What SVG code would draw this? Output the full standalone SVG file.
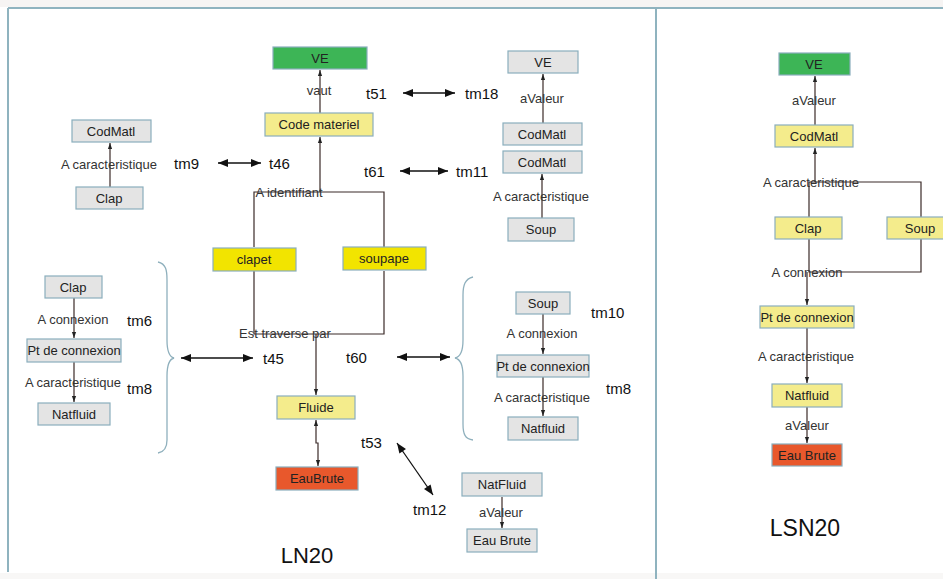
<svg xmlns="http://www.w3.org/2000/svg" width="943" height="579" viewBox="0 0 943 579">
<defs>
<marker id="ah" viewBox="0 0 10 10" refX="10" refY="5" markerWidth="6" markerHeight="6" orient="auto-start-reverse" markerUnits="userSpaceOnUse"><path d="M0,1.5 L10,5 L0,8.5 z" fill="#222"/></marker>
<marker id="big" viewBox="0 0 10 10" refX="10" refY="5" markerWidth="12" markerHeight="10" orient="auto-start-reverse" markerUnits="userSpaceOnUse"><path d="M0,1 L10,5 L0,9 z" fill="#111"/></marker>
</defs>
<style>
.n{stroke:#8aaebd;stroke-width:1.2}
.g{fill:#e4e4e4}
.y{fill:#f4ec8c}
.by{fill:#f2e400}
.gr{fill:#3db556}
.o{fill:#e8582c}
text{font-family:"Liberation Sans",Arial,sans-serif;fill:#222}
.t{font-size:13px;text-anchor:middle;dominant-baseline:central}
.l{font-size:13px;text-anchor:middle;dominant-baseline:central;fill:#333}
.m{font-size:15px;dominant-baseline:central;fill:#111}
.c{fill:none;stroke:#3b2b28;stroke-width:1.2}
.d{fill:none;stroke:#111;stroke-width:1.3}
.br{fill:none;stroke:#8fb0bd;stroke-width:1.3}
.f{stroke:#8fb3bf;stroke-width:2;fill:none}
</style>
<rect width="943" height="579" fill="#ffffff"/>
<rect x="0" y="0" width="943" height="7" fill="#f6f4f3"/>
<rect x="0" y="573" width="943" height="6" fill="#f8f7f6"/>
<g id="frame">
<path class="f" d="M8,8 H943 M8,8 V572 M656,8 V579"/>
</g>
<g id="connectors">
<path class="c" d="M320,113 V70" marker-end="url(#ah)"/>
<path class="c" d="M254,247 V192 H384 V247 M320,192 V137" marker-end="url(#ah)"/>
<path class="c" d="M254,271 V334 H384 V271"/>
<path class="c" d="M316,334 V395" marker-end="url(#ah)"/>
<path class="c" d="M318,466 V443 H316 V420" marker-start="url(#ah)" marker-end="url(#ah)"/>
<path class="c" d="M110,187 V143" marker-end="url(#ah)"/>
<path class="c" d="M543,123 V74" marker-end="url(#ah)"/>
<path class="c" d="M542,218 V174" marker-end="url(#ah)"/>
<path class="c" d="M74,298 V338" marker-end="url(#ah)"/>
<path class="c" d="M74,362 V402" marker-end="url(#ah)"/>
<path class="c" d="M543,314 V354" marker-end="url(#ah)"/>
<path class="c" d="M543,377 V416" marker-end="url(#ah)"/>
<path class="c" d="M502,497 V528" marker-end="url(#ah)"/>
<path class="c" d="M815,182 V148" marker-end="url(#ah)"/>
<path class="c" d="M815,125 V76" marker-end="url(#ah)"/>
<path class="c" d="M809,217 V182 H921 V217"/>
<path class="c" d="M809,239 V272 H921 V239"/>
<path class="c" d="M807,272 V305" marker-end="url(#ah)"/>
<path class="c" d="M807,328 V383" marker-end="url(#ah)"/>
<path class="c" d="M807,407 V443" marker-end="url(#ah)"/>
<path class="d" d="M403,93 H455" marker-start="url(#big)" marker-end="url(#big)"/>
<path class="d" d="M400,171 H448" marker-start="url(#big)" marker-end="url(#big)"/>
<path class="d" d="M218,163 H261" marker-start="url(#big)" marker-end="url(#big)"/>
<path class="d" d="M181,358 H253" marker-start="url(#big)" marker-end="url(#big)"/>
<path class="d" d="M397,357 H450" marker-start="url(#big)" marker-end="url(#big)"/>
<path class="d" d="M397,443 L433,495" marker-start="url(#big)" marker-end="url(#big)"/>
<path class="br" d="M158,262 C166,264 167,270 167,280 L167,340 C167,352 170,357 174,358 C170,359 167,364 167,376 L167,440 C167,448 164,452 158,453"/>
<path class="br" d="M473,277 C465,279 463,285 463,295 L463,340 C463,352 460,357 455,358 C460,359 463,364 463,376 L463,424 C463,434 465,439 473,440"/>
</g>
<g id="labels">
<text class="l" x="319" y="90">vaut</text>
<text class="l" x="289" y="192">A identifiant</text>
<text class="l" x="285" y="333">Est traverse par</text>
<text class="l" x="109" y="164">A caracteristique</text>
<text class="l" x="542" y="98">aValeur</text>
<text class="l" x="541" y="196">A caracteristique</text>
<text class="l" x="73" y="319">A connexion</text>
<text class="l" x="73" y="382">A caracteristique</text>
<text class="l" x="542" y="333">A connexion</text>
<text class="l" x="542" y="397">A caracteristique</text>
<text class="l" x="501" y="512">aValeur</text>
<text class="l" x="814" y="100">aValeur</text>
<text class="l" x="811" y="182">A caracteristique</text>
<text class="l" x="807" y="272">A connexion</text>
<text class="l" x="806" y="356">A caracteristique</text>
<text class="l" x="807" y="425">aValeur</text>
<text class="m" x="366" y="93">t51</text>
<text class="m" x="465" y="93">tm18</text>
<text class="m" x="364" y="171">t61</text>
<text class="m" x="456" y="171">tm11</text>
<text class="m" x="174" y="163">tm9</text>
<text class="m" x="269" y="163">t46</text>
<text class="m" x="127" y="320">tm6</text>
<text class="m" x="127" y="388">tm8</text>
<text class="m" x="263" y="358">t45</text>
<text class="m" x="346" y="357">t60</text>
<text class="m" x="591" y="312">tm10</text>
<text class="m" x="606" y="388">tm8</text>
<text class="m" x="361" y="442">t53</text>
<text class="m" x="413" y="509">tm12</text>
<text x="307" y="555" style="font-size:22px;text-anchor:middle;dominant-baseline:central;fill:#111">LN20</text>
<text x="805" y="528" style="font-size:23px;text-anchor:middle;dominant-baseline:central;fill:#111">LSN20</text>
</g>
<g id="ve-main"><rect class="n gr" x="273" y="47" width="94" height="22"/><text class="t" x="320" y="58">VE</text></g>
<g id="code-materiel"><rect class="n y" x="265" y="113" width="108" height="23"/><text class="t" x="319" y="124.5">Code materiel</text></g>
<g id="clapet"><rect class="n by" x="213" y="248" width="83" height="23"/><text class="t" x="254" y="259.5">clapet</text></g>
<g id="soupape"><rect class="n by" x="343" y="247" width="83" height="23"/><text class="t" x="384" y="258.5">soupape</text></g>
<g id="fluide"><rect class="n y" x="277" y="396" width="78" height="23"/><text class="t" x="316" y="407.5">Fluide</text></g>
<g id="eaubrute-main"><rect class="n o" x="276" y="467" width="82" height="23"/><text class="t" x="317" y="478.5">EauBrute</text></g>
<g id="tl-codmatl"><rect class="n g" x="72" y="120" width="79" height="22"/><text class="t" x="111" y="131">CodMatl</text></g>
<g id="tl-clap"><rect class="n g" x="76" y="187" width="67" height="22"/><text class="t" x="109" y="198">Clap</text></g>
<g id="tr-ve"><rect class="n g" x="508" y="51" width="70" height="22"/><text class="t" x="543" y="62">VE</text></g>
<g id="tr-codmatl1"><rect class="n g" x="503" y="123" width="79" height="22"/><text class="t" x="542" y="134">CodMatl</text></g>
<g id="tr-codmatl2"><rect class="n g" x="503" y="151" width="79" height="22"/><text class="t" x="542" y="162">CodMatl</text></g>
<g id="tr-soup"><rect class="n g" x="508" y="218" width="66" height="23"/><text class="t" x="541" y="229.5">Soup</text></g>
<g id="l-clap"><rect class="n g" x="45" y="276" width="57" height="22"/><text class="t" x="73" y="287">Clap</text></g>
<g id="l-pt"><rect class="n g" x="27" y="339" width="94" height="23"/><text class="t" x="74" y="350.5">Pt de connexion</text></g>
<g id="l-natfluid"><rect class="n g" x="38" y="403" width="72" height="22"/><text class="t" x="74" y="414">Natfluid</text></g>
<g id="r-soup"><rect class="n g" x="516" y="292" width="54" height="22"/><text class="t" x="543" y="303">Soup</text></g>
<g id="r-pt"><rect class="n g" x="497" y="355" width="92" height="22"/><text class="t" x="543" y="366">Pt de connexion</text></g>
<g id="r-natfluid"><rect class="n g" x="508" y="417" width="70" height="23"/><text class="t" x="543" y="428.5">Natfluid</text></g>
<g id="b-natfluid"><rect class="n g" x="462" y="473" width="80" height="23"/><text class="t" x="502" y="484.5">NatFluid</text></g>
<g id="b-eaubrute"><rect class="n g" x="467" y="529" width="70" height="23"/><text class="t" x="502" y="540.5">Eau Brute</text></g>
<g id="s-ve"><rect class="n gr" x="779" y="53" width="71" height="22"/><text class="t" x="814" y="64">VE</text></g>
<g id="s-codmatl"><rect class="n y" x="775" y="125" width="78" height="22"/><text class="t" x="814" y="136">CodMatl</text></g>
<g id="s-clap"><rect class="n y" x="775" y="217" width="67" height="22"/><text class="t" x="808" y="228">Clap</text></g>
<g id="s-soup"><rect class="n y" x="887" y="217" width="62" height="22"/><text class="t" x="920" y="228">Soup</text></g>
<g id="s-pt"><rect class="n y" x="760" y="306" width="94" height="22"/><text class="t" x="807" y="317">Pt de connexion</text></g>
<g id="s-natfluid"><rect class="n y" x="772" y="384" width="70" height="23"/><text class="t" x="807" y="395.5">Natfluid</text></g>
<g id="s-eaubrute"><rect class="n o" x="772" y="444" width="70" height="22"/><text class="t" x="807" y="455">Eau Brute</text></g>
</svg>
